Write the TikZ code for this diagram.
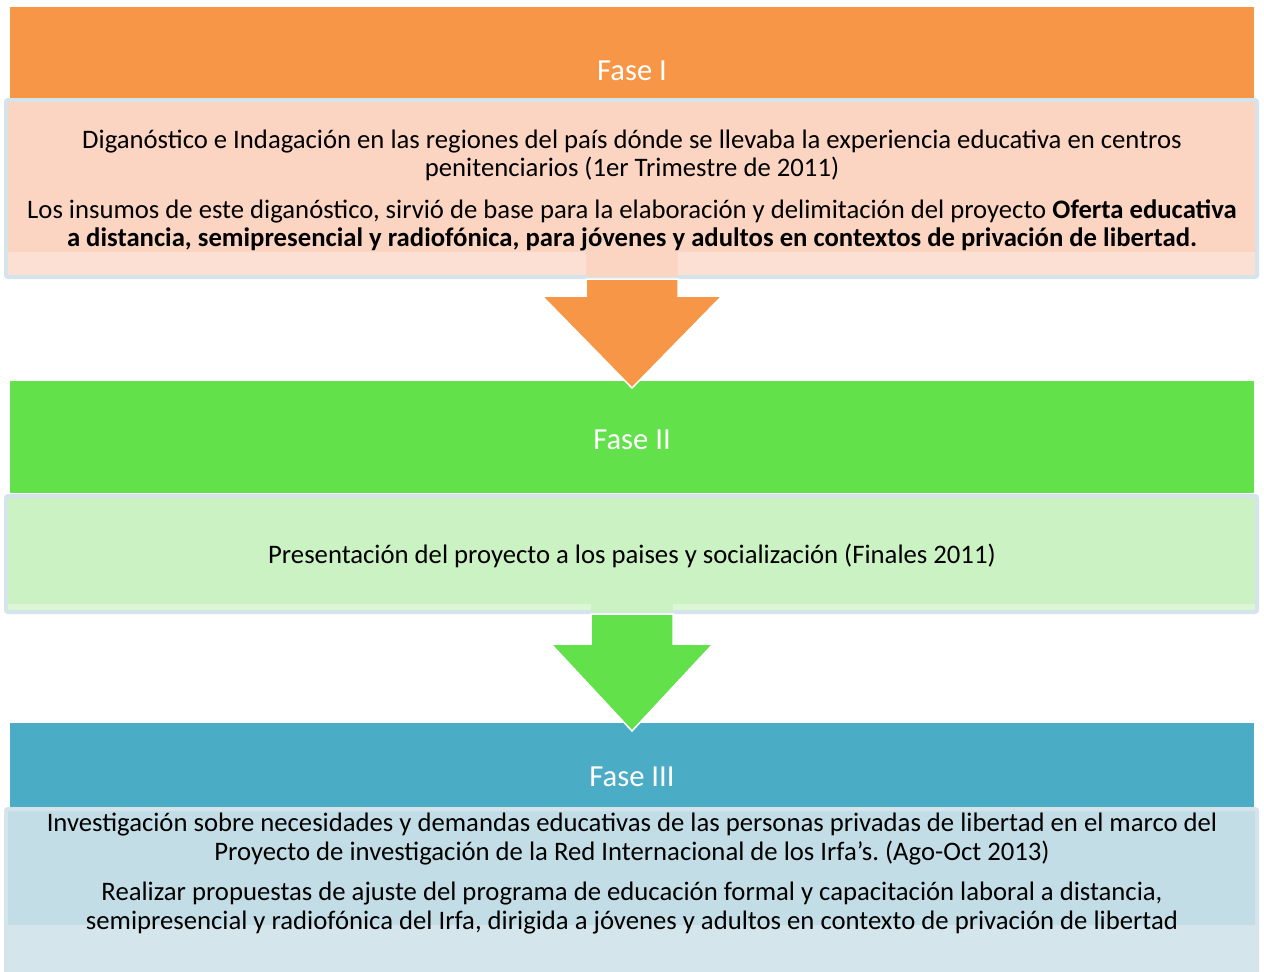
\documentclass[tikz,border=0pt]{standalone}
\usepackage{fontspec}
\setmainfont{Carlito}
\usetikzlibrary{calc}
\frenchspacing
\definecolor{faseAhdr}{HTML}{F79646}
\definecolor{faseAbox}{HTML}{FBD5C1}
\definecolor{faseAband}{HTML}{FCE0D4}
\definecolor{faseBhdr}{HTML}{62E14A}
\definecolor{faseBbox}{HTML}{CBF2C2}
\definecolor{faseBband}{HTML}{DCF6D5}
\definecolor{faseChdr}{HTML}{4BACC6}
\definecolor{faseCbox}{HTML}{C3DDE6}
\definecolor{faseCband}{HTML}{D4E6EC}
\definecolor{boxline}{HTML}{D5E3EA}
\tikzset{
  hdr/.style={rectangle, minimum width=1244pt, inner sep=0pt, outer sep=0pt},
  body/.style={rectangle, draw=boxline, line width=4pt, rounded corners=2pt,
    minimum width=1251pt, inner sep=0pt, outer sep=0pt},
  title/.style={text=white, font=\fontsize{30.6}{34}\selectfont},
  txt/.style={align=center, font=\fontsize{26.7}{28.5}\selectfont},
  blockarrow/.style={draw=white, line width=1.5pt, line join=miter}
}
\begin{document}
\begin{tikzpicture}[x=1pt,y=-1pt]
\useasboundingbox (0,0) rectangle (1264,972);
\clip (0,0) rectangle (1264,972);
% fases
\node[hdr, fill=faseAhdr, minimum height=91pt] (hdrA) at (632,52.5) {};
\node[body, fill=faseAbox, minimum height=177pt] (boxA) at (631.5,188.5) {};
\fill[faseAband] ($(boxA.south west)+(2,-2)$) rectangle ($(boxA.south east)+(-2,-25)$);
\node[hdr, fill=faseBhdr, minimum height=112pt] (hdrB) at (632,437) {};
\node[body, fill=faseBbox, minimum height=116pt] (boxB) at (631.5,554) {};
\fill[faseBband] ($(boxB.south west)+(2,-2)$) rectangle ($(boxB.south east)+(-2,-8)$);
\node[hdr, fill=faseChdr, minimum height=84pt] (hdrC) at (632,765) {};
\node[body, fill=faseCbox, minimum height=176pt] (boxC) at (631.5,897) {};
\fill[faseCband] ($(boxC.north west)+(2,116)$) rectangle ($(boxC.south east)+(-2,-2)$);
% flechas
\fill[faseAbox] ($(boxA.south)+(-45.5,-25)$) rectangle ($(boxA.south)+(46.5,0)$);
\filldraw[blockarrow, fill=faseAhdr] ($(boxA.south)+(-45.5,2)$) -- ++(0,17) -- ++(-44,0)
  -- ($(hdrB.north)+(0,7)$) -- ($(boxA.south)+(90.5,19)$) -- ++(-44,0) -- ++(0,-17) -- cycle;
\fill[faseBbox] ($(boxB.south)+(-40.5,-8)$) rectangle ($(boxB.south)+(41.5,0)$);
\filldraw[blockarrow, fill=faseBhdr] ($(boxB.south)+(-40.5,2)$) -- ++(0,30) -- ++(-40,0)
  -- ($(hdrC.north)+(0,8)$) -- ($(boxB.south)+(81.5,32)$) -- ++(-40,0) -- ++(0,-30) -- cycle;
% textos
\node[title] (titA) at (632,71) {Fase I};
\node[txt] (txtA) at (632,190.5) {Diganóstico e Indagación en las regiones del país dónde se llevaba la experiencia educativa en centros\\
  penitenciarios (1er Trimestre de 2011)\\[13pt]
  Los insumos de este diganóstico, sirvió de base para la elaboración y delimitación del proyecto \textbf{Oferta educativa}\\
  \textbf{a distancia, semipresencial y radiofónica, para jóvenes y adultos en contextos de privación de libertad.}};
\node[title] (titB) at (632,440) {Fase II};
\node[txt] (txtB) at (632,555.5) {Presentación del proyecto a los paises y socialización (Finales 2011)};
\node[title] (titC) at (632,777) {Fase III};
\node[txt] (txtC) at (632,873.5) {Investigación sobre necesidades y demandas educativas de las personas privadas de libertad en el marco del\\
  Proyecto de investigación de la Red Internacional de los Irfa’s. (Ago-Oct 2013)\\[12pt]
  Realizar propuestas de ajuste del programa de educación formal y capacitación laboral a distancia,\\
  semipresencial y radiofónica del Irfa, dirigida a jóvenes y adultos en contexto de privación de libertad};
\end{tikzpicture}
\end{document}
